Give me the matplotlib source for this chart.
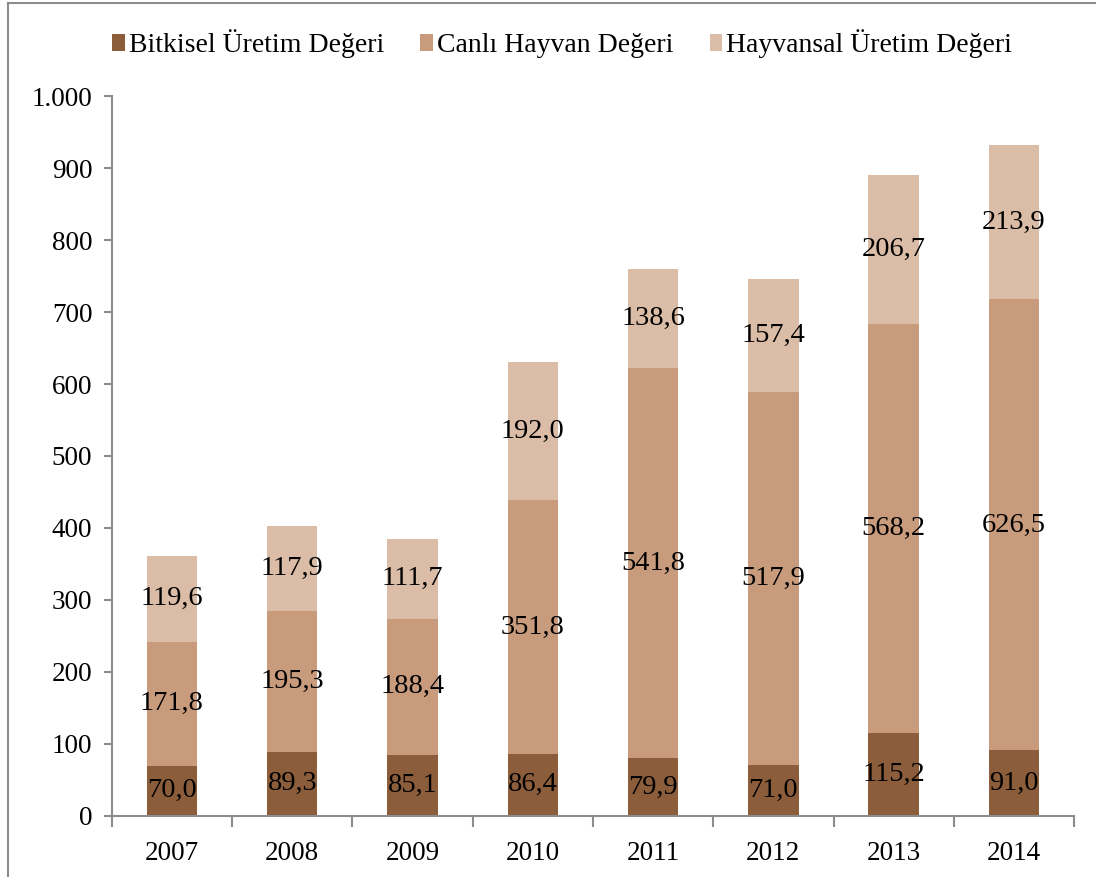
import matplotlib.pyplot as plt
import numpy as np
from matplotlib.ticker import FuncFormatter, FixedLocator

plt.rcParams['font.family'] = ['Liberation Serif', 'DejaVu Serif']

years = ['2007', '2008', '2009', '2010', '2011', '2012', '2013', '2014']
bitkisel = [70.0, 89.3, 85.1, 86.4, 79.9, 71.0, 115.2, 91.0]
canli = [171.8, 195.3, 188.4, 351.8, 541.8, 517.9, 568.2, 626.5]
hayvansal = [119.6, 117.9, 111.7, 192.0, 138.6, 157.4, 206.7, 213.9]

labels = ['Bitkisel Üretim Değeri', 'Canlı Hayvan Değeri', 'Hayvansal Üretim Değeri']
colors = ['#8B5D3B', '#C89B7C', '#DBBCA6']

fig = plt.figure(figsize=(10.96, 8.77), dpi=100)
ax = fig.add_axes([0.102, 0.0696, 0.878, 0.8209])

x = np.arange(len(years))
w = 0.42
bottom = np.zeros(len(years))
for vals, lab, c in zip([bitkisel, canli, hayvansal], labels, colors):
    vals = np.array(vals)
    ax.bar(x, vals, w, bottom=bottom, color=c, label=lab)
    for xi, b, v in zip(x, bottom, vals):
        ax.text(xi, b + v / 2, f"{v:.1f}".replace('.', ','), ha='center', va='center',
                fontsize=20.5, color='black')
    bottom = bottom + vals

ax.set_xlim(-0.5, len(years) - 0.5)
ax.set_ylim(0, 1000)
ax.set_yticks(np.arange(0, 1001, 100))
ax.yaxis.set_major_formatter(FuncFormatter(lambda v, p: f"{int(v):,}".replace(',', '.')))
ax.set_xticks(x)
ax.set_xticklabels(years)
ax.xaxis.set_minor_locator(FixedLocator(np.arange(-0.5, len(years), 1)))
ax.tick_params(axis='x', which='major', length=0, pad=18, labelsize=19.5)
ax.tick_params(axis='x', which='minor', length=8, color='#8c8c8c', width=1.5)
ax.tick_params(axis='y', length=6, color='#8c8c8c', width=1.5, labelsize=19.5, pad=8)

for s in ['top', 'right']:
    ax.spines[s].set_visible(False)
for s in ['left', 'bottom']:
    ax.spines[s].set_color('#8c8c8c')
    ax.spines[s].set_linewidth(1.5)

fig.legend(loc='center', bbox_to_anchor=(0.513, 0.95), ncol=3, frameon=False,
           fontsize=20, handlelength=0.45, handleheight=0.6, handletextpad=0.15,
           columnspacing=1.3)

# outer chart border (top and left visible)
fig.add_artist(plt.Line2D([0.0075, 1.0], [0.997, 0.997], color='#8c8c8c', lw=1.5,
                          transform=fig.transFigure))
fig.add_artist(plt.Line2D([0.0075, 0.0075], [0.0, 0.997], color='#8c8c8c', lw=1.5,
                          transform=fig.transFigure))

fig.savefig('out.png', dpi=100)
